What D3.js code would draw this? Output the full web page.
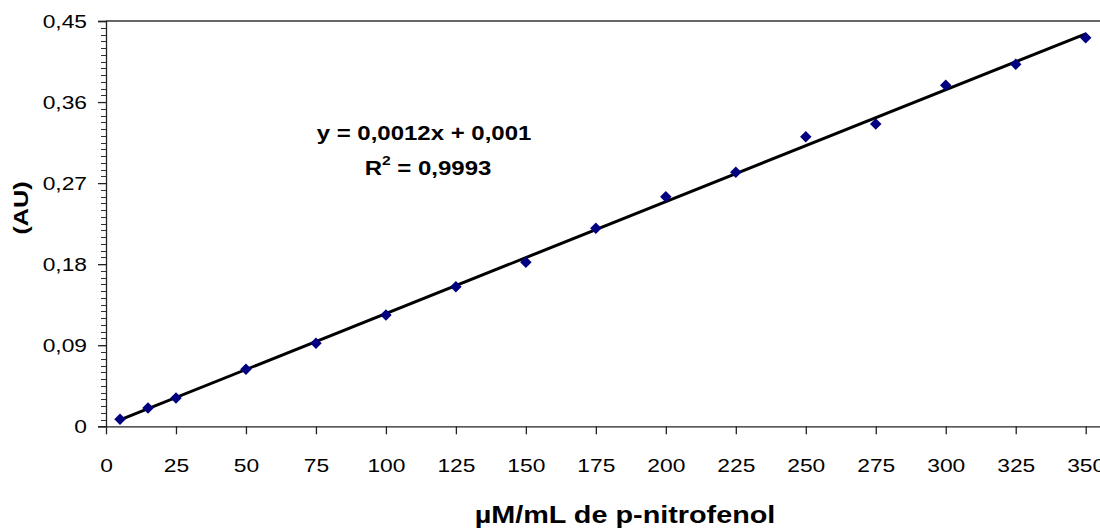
<!DOCTYPE html>
<html>
<head>
<meta charset="utf-8">
<script src="https://cdn.jsdelivr.net/npm/d3@7"></script>
<style>
  body { margin: 0; background: #fff; }
  svg { display: block; }
  text { font-family: "Liberation Sans", Arial, sans-serif; fill: #000; }
</style>
</head>
<body>
<div id="chart"></div>
<script>
// data
var concentrations = [5, 15, 25, 50, 75, 100, 125, 150, 175, 200, 225, 250, 275, 300, 325, 350];
var absorbance = [0.0078, 0.0203, 0.0314, 0.0633, 0.0921, 0.1236, 0.1550, 0.1821,
                  0.2198, 0.2549, 0.2820, 0.3215, 0.3356, 0.3786, 0.4019, 0.4314];
var xTicks = [0, 25, 50, 75, 100, 125, 150, 175, 200, 225, 250, 275, 300, 325, 350];
var yTicks = [0, 0.09, 0.18, 0.27, 0.36, 0.45];
var equationText = "y = 0,0012x + 0,001";
var r2Value = " = 0,9993";
var xTitle = "\u00b5M/mL de p-nitrofenol";
var yTitle = "(AU)";

var W = 1100, H = 531;
var plotLeft = 106, plotTop = 21, plotBottom = 426.3;
var pxPerUnit = (1085.7 - plotLeft) / 350;
var stretch = 1.2;   // the reference text is a bit wide

var svg = d3.select("#chart").append("svg")
  .attr("width", W)
  .attr("height", H);

var x = d3.scaleLinear().domain([0, 360]).range([plotLeft, plotLeft + 360 * pxPerUnit]);
var y = d3.scaleLinear().domain([0, 0.45]).range([plotBottom, plotTop]);

var fmt = function(d) { return d === 0 ? "0" : d3.format(".2f")(d).replace(".", ","); };

// top border of plot area
svg.append("line")
  .attr("x1", plotLeft).attr("x2", x(360))
  .attr("y1", y(0.45)).attr("y2", y(0.45))
  .attr("stroke", "#333").attr("stroke-width", 1.5);

// minor y ticks
var minorY = d3.range(0, 0.45 + 1e-9, 0.0075);
svg.append("g")
  .selectAll("line")
  .data(minorY)
  .enter().append("line")
    .attr("x1", plotLeft - 5).attr("x2", plotLeft)
    .attr("y1", function(d) { return Math.round(y(d)) + 0.5; })
    .attr("y2", function(d) { return Math.round(y(d)) + 0.5; })
    .attr("stroke", "#333").attr("stroke-width", 1);

// y axis
var yAxis = svg.append("g")
  .attr("transform", "translate(" + plotLeft + ",0)")
  .call(d3.axisLeft(y).tickValues(yTicks).tickFormat(fmt).tickSize(8).tickPadding(11));
yAxis.selectAll("text")
  .style("font-size", "19px").attr("fill", "#000")
  .attr("x", -19 / stretch)
  .attr("transform", "scale(" + stretch + ",1)");
yAxis.selectAll("line, path").attr("stroke", "#222").attr("stroke-width", 1.3);

// x axis
var xAxis = svg.append("g")
  .attr("transform", "translate(0," + plotBottom + ")")
  .call(d3.axisBottom(x).tickValues(xTicks).tickSize(8).tickSizeOuter(0).tickPadding(24));
xAxis.selectAll("text")
  .style("font-size", "19px").attr("fill", "#000")
  .attr("transform", "scale(" + stretch + ",1)");
xAxis.selectAll("line, path").attr("stroke", "#222").attr("stroke-width", 1.3);

// least squares trend line from the points
var mx = d3.mean(concentrations), my = d3.mean(absorbance);
var sxy = d3.sum(concentrations, function(c, i) { return (c - mx) * (absorbance[i] - my); });
var sxx = d3.sum(concentrations, function(c) { return (c - mx) * (c - mx); });
var slope = sxy / sxx, intercept = my - slope * mx;
var x0 = d3.min(concentrations), x1 = d3.max(concentrations);

svg.append("line")
  .attr("x1", x(x0)).attr("y1", y(slope * x0 + intercept))
  .attr("x2", x(x1)).attr("y2", y(slope * x1 + intercept))
  .attr("stroke", "#000").attr("stroke-width", 3);

// diamond markers
var diamond = d3.symbol().type(d3.symbolSquare).size(66);
svg.append("g")
  .selectAll("path")
  .data(concentrations)
  .enter().append("path")
    .attr("d", diamond)
    .attr("transform", function(d, i) {
      return "translate(" + x(d) + "," + y(absorbance[i]) + ") rotate(45)";
    })
    .attr("fill", "#000080");

// equation annotation
svg.append("text")
  .attr("transform", "translate(424,139.5) scale(" + stretch + ",1)")
  .attr("text-anchor", "middle")
  .style("font-size", "20px").style("font-weight", "bold")
  .text(equationText);

var r2 = svg.append("text")
  .attr("transform", "translate(428,174.5) scale(" + stretch + ",1)")
  .attr("text-anchor", "middle")
  .style("font-size", "20px").style("font-weight", "bold");
r2.append("tspan").text("R");
r2.append("tspan").attr("dy", -10).style("font-size", "13px").text("2");
r2.append("tspan").attr("dy", 10).text(r2Value);

// axis titles
svg.append("text")
  .attr("transform", "translate(625,523) scale(" + stretch + ",1)")
  .attr("text-anchor", "middle")
  .style("font-size", "24px").style("font-weight", "bold")
  .text(xTitle);

svg.append("text")
  .attr("transform", "translate(28,208) rotate(-90) scale(" + stretch + ",1)")
  .attr("text-anchor", "middle")
  .style("font-size", "21px").style("font-weight", "bold")
  .text(yTitle);
</script>
</body>
</html>
